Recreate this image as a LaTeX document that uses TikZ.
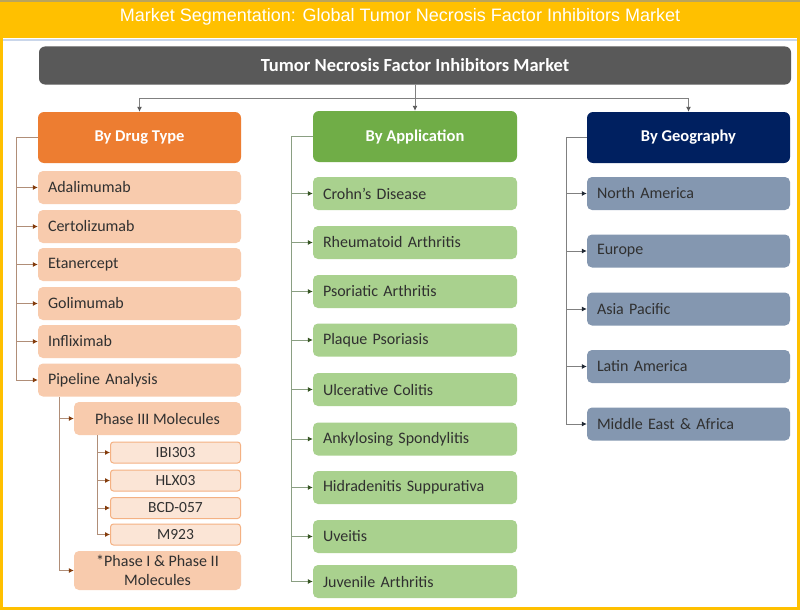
\documentclass[tikz,border=0pt]{standalone}
\usepackage{fontspec}
\setmainfont{Carlito}
\newfontfamily\titlefont{Liberation Sans}
\usetikzlibrary{positioning, arrows.meta}

\definecolor{framegold}{HTML}{FFC000}
\definecolor{frameolive}{HTML}{B9A45C}
\definecolor{rulelight}{HTML}{C9D6EA}
\definecolor{maingrey}{HTML}{595959}
\definecolor{drugdark}{HTML}{ED7D31}
\definecolor{druglight}{HTML}{F8CBAD}
\definecolor{drugpale}{HTML}{FBE5D6}
\definecolor{drugedge}{HTML}{F4B183}
\definecolor{drugwire}{HTML}{B08E78}
\definecolor{drugtip}{HTML}{843C0C}
\definecolor{appdark}{HTML}{70AD47}
\definecolor{applight}{HTML}{A9D18E}
\definecolor{appwire}{HTML}{8A9F82}
\definecolor{apptip}{HTML}{375623}
\definecolor{geodark}{HTML}{002060}
\definecolor{geolight}{HTML}{8497B0}
\definecolor{geowire}{HTML}{808080}
\definecolor{geotip}{HTML}{222A35}
\definecolor{itemtext}{HTML}{303030}

\tikzset{
  headbox/.style={rounded corners=6pt, minimum height=51pt, minimum width=203pt,
    text=white, font=\fontsize{16.5}{19}\selectfont\bfseries},
  listbox/.style={rounded corners=5pt, minimum height=33pt, text width=183pt,
    inner xsep=10pt, align=left, text=itemtext, font=\fontsize{16}{18}\selectfont},
  drugitem/.style={listbox, fill=druglight},
  subitem/.style={rounded corners=5pt, fill=druglight, minimum height=33pt,
    minimum width=167pt, align=center, text=itemtext, font=\fontsize{16}{18.5}\selectfont},
  molitem/.style={rounded corners=3pt, fill=drugpale, draw=drugedge, line width=1pt,
    minimum height=21pt, minimum width=130pt, inner sep=0pt, text=itemtext,
    font=\fontsize{15.5}{18}\selectfont},
  appitem/.style={listbox, fill=applight, text width=184pt},
  geoitem/.style={listbox, fill=geolight},
  topline/.style={draw=geowire, line width=0.9pt, -{Latex[length=5pt, width=5pt, color=maingrey]}},
  drugline/.style={draw=drugwire, line width=0.8pt, -{Latex[length=5pt, width=5pt, color=drugtip]}},
  appline/.style={draw=appwire, line width=0.8pt, -{Latex[length=5pt, width=5pt, color=apptip]}},
  geoline/.style={draw=geowire, line width=0.8pt, -{Latex[length=5pt, width=5pt, color=geotip]}}
}

\begin{document}
\begin{tikzpicture}[x=1pt, y=-1pt]
  \useasboundingbox (0, 0) rectangle (800, 610);

  % frame and title bar
  \fill[framegold] (0, 0) rectangle (800, 610);
  \fill[white] (3, 38) rectangle (797, 607);
  \fill[frameolive] (0, 0) rectangle (800, 2.5);
  \draw[rulelight, line width=1.5pt] (3, 40) -- (797, 40);
  \node (title) at (400, 17) {\titlefont\fontsize{18}{21}\selectfont\color{white}Market Segmentation: Global Tumor Necrosis Factor Inhibitors Market};

  \node[rounded corners=6pt, fill=maingrey, minimum width=752pt, minimum height=38pt,
    text=white, font=\fontsize{18.5}{21}\selectfont\bfseries] (main) at (415, 65.5) {Tumor Necrosis Factor Inhibitors Market};

  \node[headbox, fill=drugdark] (drug) at (139.5, 137.5) {By Drug Type};
  \node[headbox, fill=appdark, minimum width=204pt] (app) at (415, 136.5) {By Application};
  \node[headbox, fill=geodark] (geo) at (688.5, 137.5) {By Geography};

  \draw[topline] (main.south) -- (app.north);
  \draw[topline] (main.south) -- ++(0, 14) -| (drug.north);
  \draw[topline] (main.south) -- ++(0, 14) -| (geo.north);

  % drug type
  \node[drugitem] (ada) at (139.5, 187.5) {Adalimumab};
  \node[drugitem] (cer) at (139.5, 226.5) {Certolizumab};
  \node[drugitem] (eta) at (139.5, 264.5) {Etanercept};
  \node[drugitem] (gol) at (139.5, 303.5) {Golimumab};
  \node[drugitem] (inf) at (139.5, 341.5) {Infliximab};
  \node[drugitem] (pipe) at (139.5, 380) {Pipeline Analysis};
  \node[subitem] (ph3) at (157.5, 418.5) {Phase III Molecules};
  \node[molitem] (ibi) at (175.5, 452.5) {IBI303};
  \node[molitem] (hlx) at (175.5, 480.5) {HLX03};
  \node[molitem] (bcd) at (175.5, 508) {BCD-057};
  \node[molitem] (mnine) at (175.5, 534.5) {M923};
  \node[subitem, minimum height=39pt, inner ysep=1pt] (ph12) at (157.5, 570.5) {*Phase I \& Phase II\\Molecules};

  \coordinate (pipetap) at (59, 397);
  \coordinate (ph3tap) at (97, 435);

  \draw[drugline] (drug.west) -- ++(-21, 0) |- (ada.west);
  \draw[drugline] (drug.west) -- ++(-21, 0) |- (cer.west);
  \draw[drugline] (drug.west) -- ++(-21, 0) |- (eta.west);
  \draw[drugline] (drug.west) -- ++(-21, 0) |- (gol.west);
  \draw[drugline] (drug.west) -- ++(-21, 0) |- (inf.west);
  \draw[drugline] (drug.west) -- ++(-21, 0) |- (pipe.west);
  \draw[drugline] (pipetap) |- (ph3.west);
  \draw[drugline] (pipetap) |- (ph12.west);
  \draw[drugline] (ph3tap) |- (ibi.west);
  \draw[drugline] (ph3tap) |- (hlx.west);
  \draw[drugline] (ph3tap) |- (bcd.west);
  \draw[drugline] (ph3tap) |- (mnine.west);

  % application
  \node[appitem] (crohn) at (415, 193.5) {Crohn’s Disease};
  \node[appitem] (rheum) at (415, 242.5) {Rheumatoid Arthritis};
  \node[appitem] (psor) at (415, 291.5) {Psoriatic Arthritis};
  \node[appitem] (plaque) at (415, 340) {Plaque Psoriasis};
  \node[appitem] (ulcer) at (415, 389.5) {Ulcerative Colitis};
  \node[appitem] (ankyl) at (415, 439) {Ankylosing Spondylitis};
  \node[appitem] (hidra) at (415, 487.5) {Hidradenitis Suppurativa};
  \node[appitem] (uve) at (415, 536.5) {Uveitis};
  \node[appitem] (juv) at (415, 581.5) {Juvenile Arthritis};

  \draw[appline] (app.west) -- ++(-21, 0) |- (crohn.west);
  \draw[appline] (app.west) -- ++(-21, 0) |- (rheum.west);
  \draw[appline] (app.west) -- ++(-21, 0) |- (psor.west);
  \draw[appline] (app.west) -- ++(-21, 0) |- (plaque.west);
  \draw[appline] (app.west) -- ++(-21, 0) |- (ulcer.west);
  \draw[appline] (app.west) -- ++(-21, 0) |- (ankyl.west);
  \draw[appline] (app.west) -- ++(-21, 0) |- (hidra.west);
  \draw[appline] (app.west) -- ++(-21, 0) |- (uve.west);
  \draw[appline] (app.west) -- ++(-21, 0) |- (juv.west);

  % geography
  \node[geoitem] (nam) at (688.5, 193.5) {North America};
  \node[geoitem] (eur) at (688.5, 251) {Europe};
  \node[geoitem] (apac) at (688.5, 309) {Asia Pacific};
  \node[geoitem] (lam) at (688.5, 366.5) {Latin America};
  \node[geoitem] (mea) at (688.5, 424) {Middle East \& Africa};

  \draw[geoline] (geo.west) -- ++(-20, 0) |- (nam.west);
  \draw[geoline] (geo.west) -- ++(-20, 0) |- (eur.west);
  \draw[geoline] (geo.west) -- ++(-20, 0) |- (apac.west);
  \draw[geoline] (geo.west) -- ++(-20, 0) |- (lam.west);
  \draw[geoline] (geo.west) -- ++(-20, 0) |- (mea.west);
\end{tikzpicture}
\end{document}
